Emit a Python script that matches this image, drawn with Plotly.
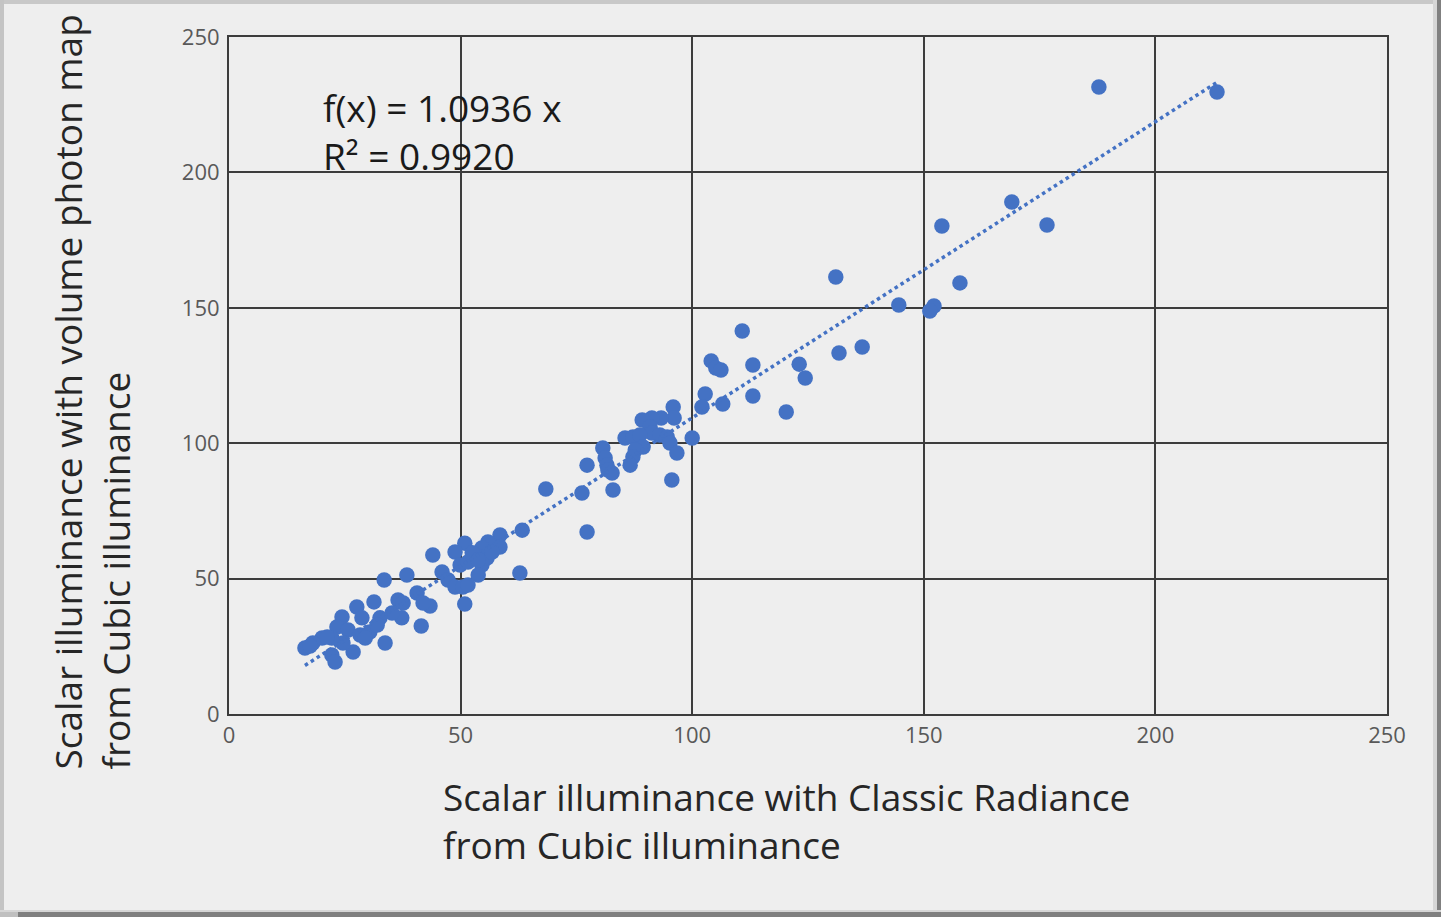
import plotly.graph_objects as go

# Data (Classic Radiance vs. volume photon map)
x_classic = [187.8, 213.3, 169.0, 153.9, 176.6, 131.0, 157.8, 144.6, 152.2, 151.3,
             110.8, 136.7, 131.7, 104.1, 113.1, 123.1, 105.1, 106.2, 124.4, 102.8,
             113.1, 120.3, 106.6, 102.1, 95.9, 96.1, 93.3, 91.3, 89.2, 90.9,
             91.3, 93.0, 94.6, 95.2, 96.7, 100.0, 95.6, 85.5, 87.2, 88.7,
             89.4, 87.7, 87.2, 86.6, 80.7, 81.2, 81.6, 81.8, 82.7, 77.3,
             82.9, 76.2, 77.3, 68.4, 63.3, 62.8, 58.5, 58.5, 55.9, 54.6,
             53.1, 50.9, 48.8, 49.9, 51.6, 54.6, 55.7, 53.8, 46.0, 47.3,
             48.8, 50.5, 51.6, 50.9, 43.4, 44.0, 38.4, 33.5, 40.6, 41.9,
             41.5, 36.5, 37.6, 37.3, 35.2, 32.6, 31.3, 27.6, 24.4, 28.7,
             23.3, 25.7, 28.3, 30.4, 32.0, 29.4, 33.7, 26.8, 24.6, 22.2,
             20.1, 18.1, 16.4, 22.2, 22.9, 52.5, 56.8, 53.8, 17.5, 21.2]
y_photon = [231.5, 229.7, 189.1, 180.2, 180.6, 161.4, 159.2, 151.0, 150.7, 148.8,
            141.4, 135.5, 133.3, 130.4, 128.9, 129.2, 127.8, 127.0, 124.1, 118.2,
            117.4, 111.5, 114.5, 113.4, 113.4, 109.3, 109.3, 109.3, 108.6, 106.0,
            103.8, 103.0, 102.3, 100.1, 96.4, 101.9, 86.4, 101.9, 102.3, 103.0,
            98.6, 97.5, 94.9, 91.9, 98.2, 94.5, 91.9, 90.1, 89.0, 91.9,
            82.7, 81.6, 67.2, 83.1, 67.9, 52.1, 66.1, 61.7, 63.5, 61.3,
            58.7, 63.1, 59.8, 55.0, 56.1, 55.0, 57.6, 51.3, 52.4, 49.5,
            46.9, 46.9, 47.6, 40.6, 39.9, 58.7, 51.3, 49.5, 44.7, 41.0,
            32.5, 42.1, 41.0, 35.5, 37.3, 35.5, 41.4, 39.5, 35.8, 35.5,
            32.1, 31.0, 29.2, 30.3, 32.9, 28.1, 26.2, 22.9, 26.2, 28.1,
            28.1, 26.2, 24.4, 21.8, 19.2, 59.5, 59.8, 56.9, 25.1, 28.4]

slope = 1.0936
r_squared = 0.9920
ticks = [0, 50, 100, 150, 200, 250]
x_title = "Scalar illuminance with Classic Radiance<br>from Cubic illuminance"
y_title = "Scalar illuminance with volume photon map<br>from Cubic illuminance"

BLUE = "#4472C4"
GRID = "#3c3c3c"
BG = "#eeeeee"

# plot area in pixels
L, R, T, B = 229, 1387, 37, 714
W, H = 1441, 917


def px(xp):
    return (xp - L) / (R - L)


def py(yp):
    return (B - yp) / (B - T)


fig = go.Figure()

fig.add_trace(go.Scatter(
    x=x_classic, y=y_photon, mode="markers",
    marker=dict(size=15.5, color=BLUE, line=dict(width=0)),
    showlegend=False, hoverinfo="x+y"))

xmin, xmax = min(x_classic), max(x_classic)
fig.add_trace(go.Scatter(
    x=[xmin, xmax], y=[slope * xmin, slope * xmax], mode="lines",
    line=dict(color=BLUE, width=3.5, dash="dot"),
    showlegend=False, hoverinfo="skip"))

axis_common = dict(
    range=[0, 250], tickvals=ticks, ticktext=[str(t) for t in ticks],
    showgrid=True, gridcolor=GRID, gridwidth=2,
    showline=True, mirror=True, linecolor=GRID, linewidth=2,
    zeroline=False, ticks="",
    tickfont=dict(family="Open Sans", size=22, color="#595959"),
)

fig.update_layout(
    width=W, height=H,
    margin=dict(l=L, r=W - R, t=T, b=H - B, autoexpand=False),
    paper_bgcolor=BG, plot_bgcolor=BG,
    xaxis=dict(**axis_common, ticklabelstandoff=1),
    yaxis=dict(**axis_common, ticklabelstandoff=3),
)

title_font = dict(family="Open Sans", size=37, color="#262626")

fig.add_annotation(
    xref="paper", yref="paper", x=px(441), y=py(820),
    xanchor="left", yanchor="middle", align="left", showarrow=False,
    text=x_title, font=title_font)

fig.add_annotation(
    xref="paper", yref="paper", x=px(91), y=py(772),
    xanchor="center", yanchor="bottom", align="left", showarrow=False,
    textangle=-90, text=y_title, font=title_font)

fig.add_annotation(
    xref="paper", yref="paper", x=px(321), y=py(131),
    xanchor="left", yanchor="middle", align="left", showarrow=False,
    text=f"f(x) = {slope:.4f} x<br>R² = {r_squared:.4f}",
    font=dict(family="Open Sans", size=37, color="#1a1a1a"))

# outer frame bands
frame = [
    (0, 0, W, 4, "#c8c8c8"),
    (0, 0, 4, H, "#c4c4c4"),
    (W - 8, 0, W - 4, H, "#d6d6d6"),
    (W - 4, 0, W, H, "#808080"),
    (0, H - 7, W, H - 5, "#d6d6d6"),
    (0, H - 5, 18, H, "#c0c0c0"),
    (18, H - 5, W, H, "#808080"),
]
for x0, y0, x1, y1, c in frame:
    fig.add_shape(type="rect", xref="paper", yref="paper",
                  x0=px(x0), x1=px(x1), y0=py(y1), y1=py(y0),
                  fillcolor=c, line=dict(width=0), layer="above")

fig.write_html("out.html")
